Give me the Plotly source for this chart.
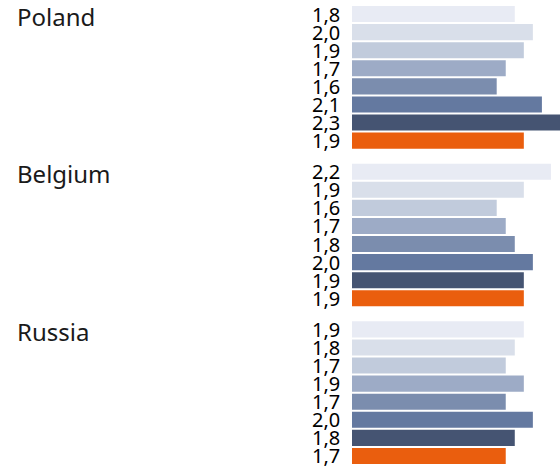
import plotly.graph_objects as go

# Values per country, one entry per series (top to bottom)
countries = ["Poland", "Belgium", "Russia"]
poland = [1.8, 2.0, 1.9, 1.7, 1.6, 2.1, 2.3, 1.9]
belgium = [2.2, 1.9, 1.6, 1.7, 1.8, 2.0, 1.9, 1.9]
russia = [1.9, 1.8, 1.7, 1.9, 1.7, 2.0, 1.8, 1.7]
series_colors = ["#E8EBF4", "#D9DFEA", "#C1CBDC", "#9DABC6", "#7B8DAE",
                 "#6479A0", "#455472", "#EA5E0E"]

values = [poland, belgium, russia]
n_series = len(series_colors)

# Layout of the bar rows (in bar-slot units)
group_step = 157 / 18      # distance between the first bars of consecutive groups
bar_width = 16 / 18
x_max = 2.3
plot_w = 560
bars_left_px = 352
x_min = -x_max * bars_left_px / (plot_w - bars_left_px)

fig = go.Figure()
annotations = []
for s in range(n_series):
    ys = [g * group_step + s for g in range(len(countries))]
    xs = [values[g][s] for g in range(len(countries))]
    fig.add_trace(go.Bar(
        x=xs, y=ys, orientation="h", width=bar_width,
        marker=dict(color=series_colors[s], line=dict(width=0)),
        hoverinfo="skip", showlegend=False,
    ))
    for y, v in zip(ys, xs):
        annotations.append(dict(
            x=0, y=y, xref="x", yref="y", text=f"{v:.1f}".replace(".", ","),
            showarrow=False, xanchor="right", yanchor="middle", xshift=-10,
            font=dict(family="Noto Sans", size=20, color="#000000"),
        ))

for g, name in enumerate(countries):
    annotations.append(dict(
        x=15 / plot_w, y=g * group_step, xref="paper", yref="y", text=name,
        showarrow=False, xanchor="left", yanchor="middle", yshift=-2,
        font=dict(family="Noto Sans", size=24, color="#1a1a1a"),
    ))

y_top = -bar_width / 2 - 6 / 18
y_bottom = (len(countries) - 1) * group_step + (n_series - 1) + bar_width / 2 + 5 / 18

fig.update_layout(
    width=560, height=469,
    margin=dict(l=0, r=0, t=0, b=0),
    paper_bgcolor="white", plot_bgcolor="white",
    barmode="overlay",
    xaxis=dict(range=[x_min, x_max], visible=False, fixedrange=True),
    yaxis=dict(range=[y_bottom, y_top], visible=False, fixedrange=True),
    annotations=annotations,
)

fig.write_html("out.html", config={"displayModeBar": False})
